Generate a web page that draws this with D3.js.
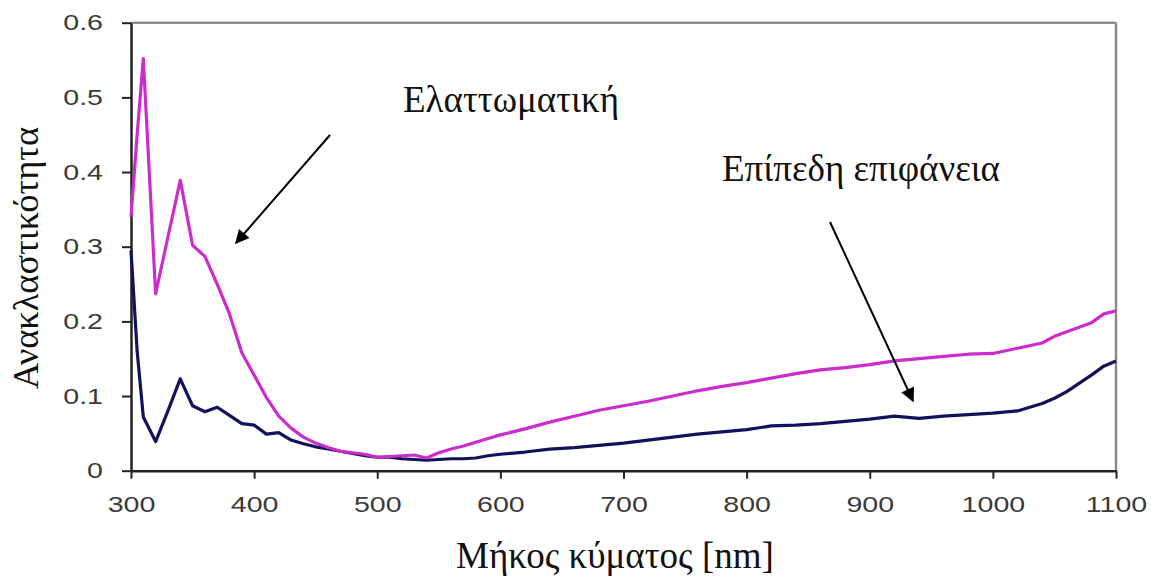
<!DOCTYPE html>
<html>
<head>
<meta charset="utf-8">
<script src="https://cdn.jsdelivr.net/npm/d3@7"></script>
<style>
  html, body { margin: 0; padding: 0; background: #fff; }
  svg { display: block; }
</style>
</head>
<body>
<svg id="chart" width="1154" height="578"></svg>
<script>
// Wavelength grid (nm)
const wavelengths = [300,305,310,320,330,340,350,360,370,380,390,400,410,420,430,440,450,460,470,480,490,500,510,520,530,540,550,560,570,580,590,600,620,640,660,680,700,720,740,760,780,800,820,840,860,880,900,920,940,960,980,1000,1020,1040,1050,1060,1080,1090,1100];

// Reflectance of the defective (textured) surface
const defective = [0.34,0.45,0.552,0.237,0.313,0.389,0.302,0.287,0.25,0.21,0.158,0.128,0.098,0.073,0.057,0.045,0.037,0.031,0.026,0.024,0.022,0.018,0.019,0.020,0.021,0.017,0.024,0.029,0.033,0.038,0.043,0.048,0.056,0.065,0.073,0.081,0.087,0.093,0.100,0.107,0.113,0.118,0.124,0.130,0.135,0.138,0.142,0.147,0.150,0.153,0.156,0.157,0.164,0.171,0.180,0.186,0.198,0.210,0.214];

// Reflectance of the flat surface
const flat = [0.295,0.16,0.072,0.039,0.08,0.123,0.087,0.079,0.085,0.074,0.063,0.061,0.049,0.051,0.041,0.036,0.032,0.029,0.026,0.023,0.020,0.018,0.018,0.016,0.015,0.014,0.015,0.016,0.016,0.017,0.020,0.022,0.025,0.029,0.031,0.034,0.037,0.041,0.045,0.049,0.052,0.055,0.060,0.061,0.063,0.066,0.069,0.073,0.070,0.073,0.075,0.077,0.080,0.090,0.097,0.106,0.128,0.140,0.147];

const xTicks = [300,400,500,600,700,800,900,1000,1100];
const yTicks = [0,0.1,0.2,0.3,0.4,0.5,0.6];

const seriesLabels = ["Ελαττωματική", "Επίπεδη επιφάνεια"];
const xTitle = "Μήκος κύματος [nm]";
const yTitle = "Ανακλαστικότητα";

const svg = d3.select("#chart");
const plotLeft = 131, plotRight = 1116, plotTop = 22.7, plotBottom = 470.7;

const x = d3.scaleLinear().domain([300, 1100]).range([plotLeft, plotRight]);
const y = d3.scaleLinear().domain([0, 0.6]).range([plotBottom, plotTop]);

// Plot frame: grey top and right edges
svg.append("line").attr("x1", plotLeft).attr("x2", plotRight).attr("y1", plotTop).attr("y2", plotTop)
  .attr("stroke", "#7a7a7a").attr("stroke-width", 2);
svg.append("line").attr("x1", plotRight).attr("x2", plotRight).attr("y1", plotTop).attr("y2", plotBottom)
  .attr("stroke", "#8a8a8a").attr("stroke-width", 2.5);

// Axes
const xAxis = d3.axisBottom(x).tickValues(xTicks).tickSize(8).tickPadding(18).tickSizeOuter(0)
  .tickFormat(d3.format("d"));
const yAxis = d3.axisLeft(y).tickValues(yTicks).tickSize(9).tickPadding(14).tickSizeOuter(0)
  .tickFormat(d => d === 0 ? "0" : d3.format(".1f")(d));

const gx = svg.append("g").attr("transform", `translate(0,${plotBottom})`).call(xAxis);
const gy = svg.append("g").attr("transform", `translate(${plotLeft},0)`).call(yAxis);

[gx, gy].forEach(g => {
  g.select(".domain").attr("stroke", "#222").attr("stroke-width", 2.5);
  g.selectAll(".tick line").attr("stroke", "#222").attr("stroke-width", 2);
  g.selectAll(".tick text")
    .attr("font-family", "Liberation Sans, Arial, sans-serif")
    .attr("font-size", 22)
    .attr("fill", "#3a3a3a");
});

// Tick labels are drawn wide
const stretch = 1.3;
gx.selectAll(".tick text").attr("transform", `scale(${stretch},1)`).attr("x", 0);
gy.selectAll(".tick text").attr("transform", `scale(${stretch},1)`).attr("x", -28 / stretch);

// Series lines
const line = d3.line().x((d, i) => x(wavelengths[i])).y(d => y(d));

svg.append("path").datum(flat)
  .attr("fill", "none").attr("stroke", "#12125a").attr("stroke-width", 3.2)
  .attr("stroke-linejoin", "round").attr("d", line);

svg.append("path").datum(defective)
  .attr("fill", "none").attr("stroke", "#cc2ccc").attr("stroke-width", 3.2)
  .attr("stroke-linejoin", "round").attr("d", line);

// Annotation arrows
const defs = svg.append("defs");
defs.append("marker").attr("id", "arrow").attr("viewBox", "0 0 10 10")
  .attr("refX", 9).attr("refY", 5).attr("markerWidth", 9).attr("markerHeight", 7)
  .attr("markerUnits", "strokeWidth").attr("orient", "auto")
  .append("path").attr("d", "M0,0 L10,5 L0,10 z").attr("fill", "#000");

svg.append("line").attr("x1", 330).attr("y1", 135).attr("x2", 236).attr("y2", 243)
  .attr("stroke", "#000").attr("stroke-width", 2).attr("marker-end", "url(#arrow)");
svg.append("line").attr("x1", 830).attr("y1", 222).attr("x2", 913).attr("y2", 401)
  .attr("stroke", "#000").attr("stroke-width", 2).attr("marker-end", "url(#arrow)");

// Text labels
const serif = "Liberation Serif, Times New Roman, serif";
svg.append("text").attr("x", 403).attr("y", 112).attr("font-family", serif)
  .attr("font-size", 37).attr("fill", "#111").text(seriesLabels[0]);
svg.append("text").attr("x", 722).attr("y", 181).attr("font-family", serif)
  .attr("font-size", 37).attr("fill", "#111").text(seriesLabels[1]);

svg.append("text").attr("x", 615).attr("y", 568).attr("text-anchor", "middle")
  .attr("font-family", serif).attr("font-size", 37).attr("fill", "#111").text(xTitle);

svg.append("text").attr("transform", "translate(38,258) rotate(-90)")
  .attr("text-anchor", "middle").attr("font-family", serif).attr("font-size", 36.5)
  .attr("fill", "#111").text(yTitle);
</script>
</body>
</html>
